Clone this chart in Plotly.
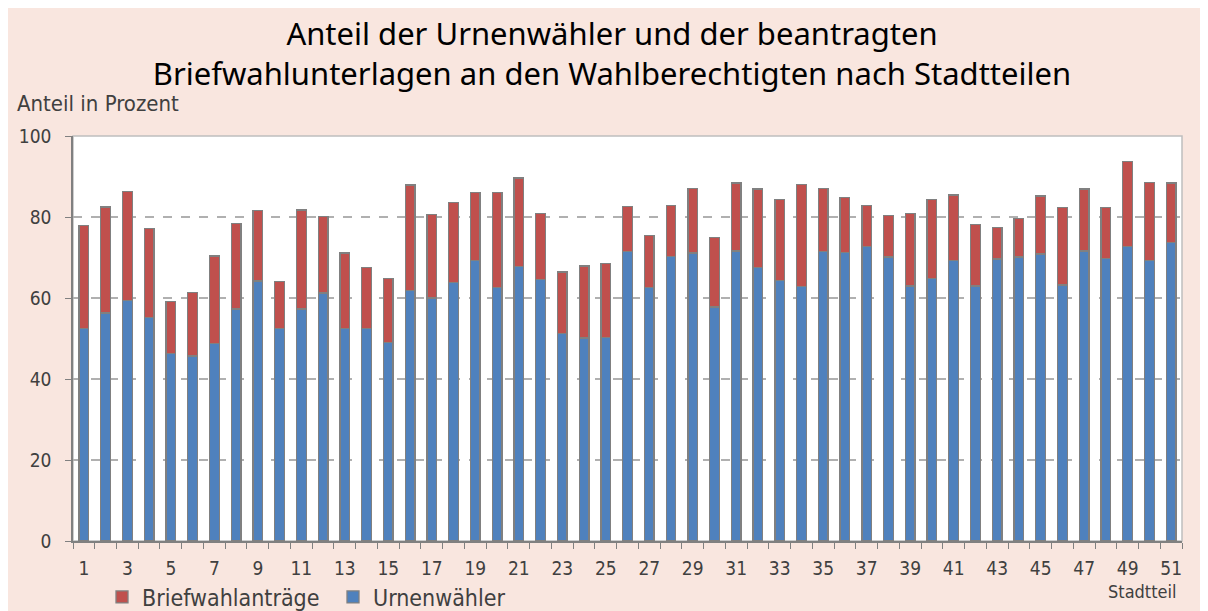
import plotly.graph_objects as go

stadtteile = [1, 2, 3, 4, 5, 6, 7, 8, 9, 10, 11, 12, 13, 14, 15, 16, 17, 18, 19, 20,
              21, 22, 23, 24, 25, 26, 27, 28, 29, 30, 31, 32, 33, 34, 35, 36, 37, 38, 39, 40,
              41, 42, 43, 44, 45, 46, 47, 48, 49, 50, 51]

urnenwaehler = [52.5, 56.3, 59.3, 55.2, 46.3, 45.7, 48.8, 57.3, 64.2, 52.5, 57.3, 61.2, 52.5,
                52.5, 49.1, 61.8, 60.0, 63.8, 69.3, 62.6, 67.8, 64.5, 51.3, 50.1, 50.2, 71.4,
                62.6, 70.2, 71.1, 57.8, 71.6, 67.6, 64.4, 62.9, 71.4, 71.3, 72.8, 70.1, 63.0,
                64.9, 69.3, 63.0, 69.6, 70.1, 70.9, 63.2, 71.6, 69.8, 72.8, 69.3, 73.7]

briefwahl = [25.4, 26.2, 27.0, 21.9, 12.9, 15.6, 21.6, 21.1, 17.4, 11.5, 24.4, 19.0, 18.6,
             15.0, 15.8, 26.1, 20.7, 19.8, 16.8, 23.5, 21.8, 16.4, 15.1, 17.8, 18.4, 11.2,
             12.9, 12.7, 15.9, 17.2, 16.8, 19.3, 20.0, 25.2, 15.7, 13.5, 10.1, 10.3, 17.9,
             19.5, 16.1, 15.2, 7.8, 9.5, 14.3, 19.2, 15.3, 12.6, 20.9, 19.2, 14.7]

x_tickvals = [1, 3, 5, 7, 9, 11, 13, 15, 17, 19, 21, 23, 25, 27, 29, 31, 33, 35, 37, 39,
              41, 43, 45, 47, 49, 51]
x_ticktext = [str(v) for v in x_tickvals]
y_tickvals = [0, 20, 40, 60, 80, 100]

COND = "Liberation Sans Narrow, DejaVu Sans Condensed, sans-serif"
TXT = "#404040"
PINK = "#F9E6DF"

fig = go.Figure()
fig.add_trace(go.Bar(
    x=stadtteile, y=urnenwaehler, name="Urnenwähler",
    marker=dict(color="#4F81BD", line=dict(color="#808080", width=1.3)),
))
fig.add_trace(go.Bar(
    x=stadtteile, y=briefwahl, name="Briefwahlanträge",
    marker=dict(color="#C0504D", line=dict(color="#808080", width=1.3)),
))

# The page places the figure 8 px in from the top-left corner of the window,
# so positions below are given in window pixels and converted.
OFF = 8
W, H = 1208, 611
PX_L, PX_R, PX_T, PX_B = 73, 1182, 136, 541   # plot area in window pixels
L, R, T, B = PX_L - OFF, W - (PX_R - OFF), PX_T - OFF, H - (PX_B - OFF)
pw, ph = W - L - R, H - T - B

def px_x(p):
    return (p - OFF - L) / pw

def px_y(p):
    return (H - B - (p - OFF)) / ph

fig.update_layout(
    width=W, height=H,
    barmode="stack", bargap=0.555,
    paper_bgcolor=PINK, plot_bgcolor="white",
    margin=dict(l=L, r=R, t=T, b=B, pad=0, autoexpand=False),
    title=dict(
        text="Anteil der Urnenwähler und der beantragten<br>Briefwahlunterlagen an den Wahlberechtigten nach Stadtteilen",
        x=0.5, xanchor="center", y=1 - (45 - OFF) / H, yanchor="middle",
        font=dict(family="Noto Sans", size=31, color="#000000"),
    ),
    showlegend=True,
    legend=dict(
        orientation="h", traceorder="reversed",
        x=px_x(102), xanchor="left", y=px_y(597), yanchor="middle",
        font=dict(family=COND, size=23, color=TXT),
        bgcolor="rgba(0,0,0,0)", itemclick=False,
        entrywidth=186, entrywidthmode="pixels",
    ),
    xaxis=dict(
        range=[0.5, 51.5], tickmode="array", tickvals=x_tickvals, ticktext=x_ticktext,
        ticks="", showgrid=False, zeroline=False,
        showline=True, linecolor="#808080", linewidth=1.5,
        tickfont=dict(family=COND, size=19, color=TXT),
        ticklabelstandoff=9,
        minor=dict(tickmode="linear", tick0=0.5, dtick=1, ticks="outside",
                   ticklen=6, tickcolor="#808080", tickwidth=1.3, showgrid=False),
    ),
    yaxis=dict(
        range=[0, 100], tickmode="array", tickvals=y_tickvals,
        ticks="outside", ticklen=6, tickcolor="#808080", tickwidth=1.3,
        showline=True, linecolor="#808080", linewidth=1.5,
        showgrid=True, gridcolor="#B0B0B0", griddash="dash", gridwidth=1.5,
        zeroline=False, ticklabelstandoff=10,
        tickfont=dict(family=COND, size=19, color=TXT),
    ),
    shapes=[
        dict(type="rect", xref="paper", yref="paper", x0=0, x1=1, y0=0, y1=1,
             line=dict(color="#BFBFBF", width=1.5), fillcolor="rgba(0,0,0,0)", layer="below"),
    ],
    annotations=[
        dict(text="Anteil in Prozent", xref="paper", yref="paper", x=px_x(15), y=px_y(103),
             xanchor="left", yanchor="middle", showarrow=False,
             font=dict(family=COND, size=22, color=TXT)),
        dict(text="Stadtteil", xref="paper", yref="paper", x=px_x(1179), y=px_y(591),
             xanchor="right", yanchor="middle", showarrow=False,
             font=dict(family=COND, size=18, color=TXT)),
    ],
)

fig.write_html("out.html")
